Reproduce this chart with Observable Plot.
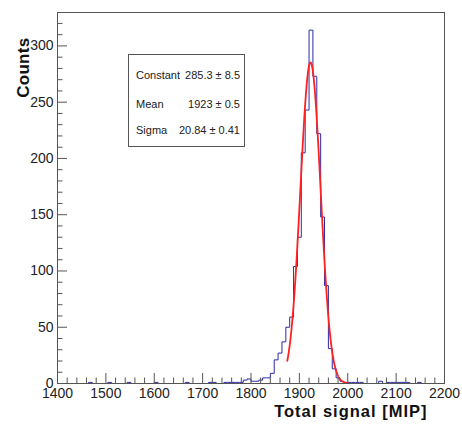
<!DOCTYPE html>
<html>
<head>
<meta charset="utf-8">
<script src="https://cdn.jsdelivr.net/npm/d3@7"></script>
<script src="https://cdn.jsdelivr.net/npm/@observablehq/plot@0.6"></script>
<style>
  html, body { margin: 0; padding: 0; background: #fff; }
  #wrap { position: relative; width: 462px; height: 424px; font-family: 'Liberation Sans', Arial, sans-serif; }
  #stats { position: absolute; left: 128px; top: 54px; width: 117px; height: 93px; box-sizing: border-box;
           border: 1px solid #555; background: #fff; font-size: 11px; color: #222; }
  #stats .row { position: absolute; left: 7px; right: 4px; height: 14px; line-height: 14px; }
  #stats .lab { position: absolute; left: 0; top: 0; }
  #stats .val { position: absolute; right: 0; top: 0; }
</style>
</head>
<body>
<div id="wrap"></div>
<script>
// ---- data ----
const binStart = 1400;
const binWidth = 8;
// counts per bin (100 bins of 8 MIP, 1400..2200)
const counts = [
  0, 0, 0, 0, 0, 0, 0, 0, 1, 0,      // 1400-1472
  0, 0, 0, 1, 0, 0, 0, 0, 1, 0,      // 1480-1552
  0, 0, 0, 0, 0, 1, 0, 0, 0, 0,      // 1560-1632
  0, 0, 0, 1, 0, 0, 0, 0, 0, 1,      // 1640-1712
  1, 0, 0, 1, 1, 1, 1, 1, 3, 4,      // 1720-1792
  2, 2, 3, 5, 5, 9, 21, 27, 37, 50,  // 1800-1872
  59, 104, 130, 205, 243, 314, 273, 222, 148, 87, // 1880-1952
  31, 13, 5, 2, 1, 1, 1, 1, 1, 0,    // 1960-2032
  0, 0, 0, 2, 0, 1, 1, 1, 1, 1,      // 2040-2112
  1, 0, 0, 1, 0, 0, 0, 0, 0, 0       // 2120-2192
];
const xTickLabels = [1400, 1500, 1600, 1700, 1800, 1900, 2000, 2100, 2200];
const yTickLabels = [0, 50, 100, 150, 200, 250, 300];
const xMinorStep = 20;
const yMinorStep = 10;
const xDomain = [1400, 2200];
const yMax = 329.7;

// Gaussian fit parameters (stats box)
const fitConstant = 285.3, fitConstantErr = 8.5;
const fitMean = 1923, fitMeanErr = 0.5;
const fitSigma = 20.84, fitSigmaErr = 0.41;
const fitRange = [1875, 2000];

const xTitle = "Total signal [MIP]";
const yTitle = "Counts";

// ---- build ----
const histPoints = counts.map((c, i) => ({x: binStart + binWidth * i, y: c}));
histPoints.push({x: binStart + binWidth * counts.length, y: 0});

const fitPoints = d3.range(fitRange[0], fitRange[1] + 0.001, 0.5).map(x => ({
  x, y: fitConstant * Math.exp(-0.5 * ((x - fitMean) / fitSigma) ** 2)
}));

const W = 462, H = 424, mL = 57, mR = 18, mT = 12, mB = 41;
const plotW = W - mL - mR, plotH = H - mT - mB;

const xMinor = d3.range(xDomain[0], xDomain[1] + 1, xMinorStep).filter(v => v % 100 !== 0);
const yMinor = d3.range(0, yMax, yMinorStep).filter(v => v % 50 !== 0);

const axisColor = "#555";
const textColor = "#222";

const chart = Plot.plot({
  width: W, height: H,
  marginLeft: mL, marginRight: mR, marginTop: mT, marginBottom: mB,
  style: {fontFamily: "'Liberation Sans', Arial, sans-serif", fontSize: "14px", background: "white", overflow: "visible"},
  x: {domain: xDomain, axis: null},
  y: {domain: [0, yMax], axis: null},
  marks: [
    Plot.line(histPoints, {x: "x", y: "y", curve: "step-after", stroke: "#2a2aa8", strokeWidth: 1}),
    Plot.line(fitPoints, {x: "x", y: "y", stroke: "#ff2020", strokeWidth: 1.8}),
    // ticks (inward)
    Plot.ruleX(xTickLabels, {x: d => d, stroke: axisColor, insetTop: plotH - 10}),
    Plot.ruleX(xMinor, {x: d => d, stroke: axisColor, insetTop: plotH - 5.5}),
    Plot.ruleY(yTickLabels, {y: d => d, stroke: axisColor, insetRight: plotW - 10}),
    Plot.ruleY(yMinor, {y: d => d, stroke: axisColor, insetRight: plotW - 5.5}),
    Plot.frame({stroke: axisColor, strokeWidth: 1}),
    // tick labels
    Plot.text(xTickLabels, {x: d => d, text: d => String(d), frameAnchor: "bottom", lineAnchor: "top",
      dy: 5, fontSize: 14, fill: textColor}),
    Plot.text(yTickLabels, {y: d => d, text: d => String(d), frameAnchor: "left", textAnchor: "end",
      lineAnchor: "middle", dx: -4, fontSize: 14, fill: textColor}),
    // titles
    Plot.text([xTitle], {text: d => d, frameAnchor: "bottom-right", textAnchor: "end", lineAnchor: "middle",
      dx: -17, dy: 28.4, fontSize: 16.5, fontWeight: "bold", fill: "#111"}),
    Plot.text([yTitle], {text: d => d, frameAnchor: "top-left", textAnchor: "end", lineAnchor: "middle",
      rotate: -90, dx: -34.1, dy: 25, fontSize: 17, fontWeight: "bold", fill: "#111"})
  ]
});

d3.select(chart).selectAll("text").filter(function () { return this.textContent === xTitle; })
  .style("letter-spacing", "1px");
d3.select(chart).selectAll("text").filter(function () { return this.textContent === yTitle; })
  .style("letter-spacing", "0.3px");

const wrap = document.getElementById("wrap");
wrap.appendChild(chart);

// stats box
const statsRows = [
  {label: "Constant", value: `${fitConstant.toFixed(1)} \u00b1 ${fitConstantErr}`, top: 13},
  {label: "Mean", value: `${fitMean} \u00b1 ${fitMeanErr}`, top: 42.3},
  {label: "Sigma", value: `${fitSigma.toFixed(2)} \u00b1 ${fitSigmaErr.toFixed(2)}`, top: 68.3}
];
const stats = document.createElement("div");
stats.id = "stats";
for (const r of statsRows) {
  const row = document.createElement("div");
  row.className = "row";
  row.style.top = r.top + "px";
  const l = document.createElement("span"); l.className = "lab"; l.textContent = r.label;
  const v = document.createElement("span"); v.className = "val"; v.textContent = r.value;
  row.appendChild(l); row.appendChild(v);
  stats.appendChild(row);
}
wrap.appendChild(stats);
</script>
</body>
</html>
